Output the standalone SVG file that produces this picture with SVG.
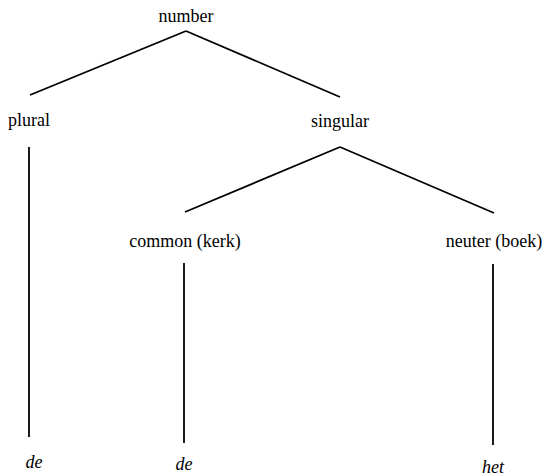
<svg xmlns="http://www.w3.org/2000/svg" width="543" height="476" viewBox="0 0 543 476">
<style>
.lb{font-family:'Liberation Serif','Times New Roman',serif;font-size:18px;fill:#000}
.it{font-family:'Liberation Serif','Times New Roman',serif;font-style:italic;font-size:18px;fill:#000}
.e{stroke:#000;stroke-width:1.8;fill:none}
</style>
<rect width="543" height="476" fill="#fff"/>
<g id="connectors">
<line class="e" x1="186" y1="31" x2="30" y2="95"/>
<line class="e" x1="186" y1="31" x2="340" y2="97"/>
<line class="e" x1="29" y1="147" x2="29" y2="437"/>
<line class="e" x1="340" y1="147" x2="185" y2="212"/>
<line class="e" x1="340" y1="147" x2="494" y2="213"/>
<line class="e" x1="184" y1="263" x2="184" y2="443"/>
<line class="e" x1="493" y1="264" x2="493" y2="445"/>
</g>
<g id="number"><text class="lb" x="186" y="22" text-anchor="middle">number</text></g>
<g id="plural"><text class="lb" x="29" y="126" text-anchor="middle">plural</text></g>
<g id="singular"><text class="lb" x="340" y="127" text-anchor="middle">singular</text></g>
<g id="common"><text class="lb" x="185" y="247" text-anchor="middle">common (kerk)</text></g>
<g id="neuter"><text class="lb" x="494" y="247" text-anchor="middle">neuter (boek)</text></g>
<g id="de1"><text class="it" x="34" y="468" text-anchor="middle">de</text></g>
<g id="de2"><text class="it" x="184" y="470" text-anchor="middle">de</text></g>
<g id="het"><text class="it" x="493" y="473" text-anchor="middle">het</text></g>
</svg>
